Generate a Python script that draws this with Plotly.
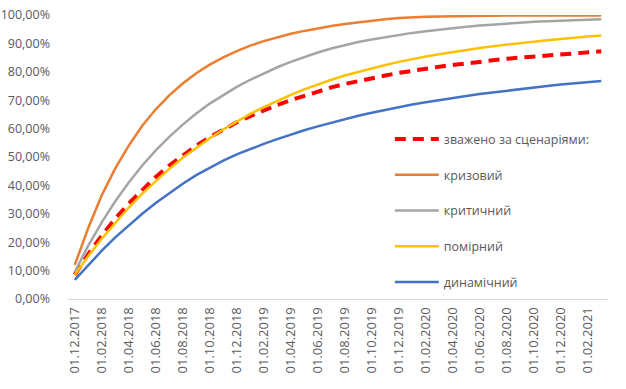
import pandas as pd
import plotly.graph_objects as go

# Monthly dates 01.12.2017 .. 01.03.2021
dates = pd.date_range("2017-12-01", "2021-03-01", freq="MS")
categories = [d.strftime("%d.%m.%Y") for d in dates]
tick_labels = categories[::2]

weighted = [8.5, 15.8, 22.3, 28.3, 33.6, 38.5, 43.0, 47.0, 50.7, 54.0, 57.0, 59.7, 62.2, 64.4, 66.4, 68.3, 70.0, 71.6, 73.1, 74.5,
            75.7, 76.8, 77.8, 78.7, 79.6, 80.4, 81.1, 81.8, 82.4, 83.0, 83.6, 84.1, 84.6, 85.0, 85.4, 85.8, 86.2, 86.6, 86.9, 87.2]
crisis = [12.0, 25.0, 36.5, 46.0, 54.0, 61.0, 66.8, 71.7, 75.9, 79.5, 82.5, 85.1, 87.3, 89.2, 90.8, 92.2, 93.4, 94.4, 95.3, 96.1,
          96.8, 97.4, 98.0, 98.5, 98.9, 99.2, 99.4, 99.5, 99.6, 99.7, 99.7, 99.8, 99.8, 99.8, 99.8, 99.8, 99.8, 99.8, 99.8, 99.8]
critical = [9.5, 18.8, 27.0, 34.4, 41.0, 47.0, 52.3, 57.1, 61.4, 65.3, 68.8, 71.9, 74.7, 77.2, 79.5, 81.6, 83.5, 85.2, 86.8, 88.2,
            89.4, 90.5, 91.4, 92.2, 93.0, 93.7, 94.3, 94.9, 95.4, 95.9, 96.3, 96.7, 97.0, 97.3, 97.6, 97.8, 98.0, 98.2, 98.4, 98.5]
moderate = [8.5, 15.1, 21.2, 26.9, 32.2, 37.1, 41.6, 45.8, 49.7, 53.3, 56.6, 59.7, 62.6, 65.2, 67.6, 69.8, 71.9, 73.8, 75.6, 77.2,
            78.7, 80.0, 81.3, 82.4, 83.5, 84.5, 85.4, 86.2, 87.0, 87.7, 88.4, 89.0, 89.6, 90.1, 90.6, 91.1, 91.6, 92.0, 92.4, 92.8]
dynamic = [6.7, 12.0, 17.0, 21.7, 26.0, 30.0, 33.8, 37.3, 40.6, 43.6, 46.3, 48.7, 50.9, 52.8, 54.6, 56.3, 57.9, 59.4, 60.8, 62.1,
           63.3, 64.5, 65.6, 66.6, 67.6, 68.5, 69.3, 70.1, 70.8, 71.5, 72.2, 72.8, 73.4, 74.0, 74.5, 75.0, 75.5, 76.0, 76.4, 76.8]

series = [
    ("зважено за сценаріями:", weighted, "#FF0000", 4, "11px,7px"),
    ("кризовий", crisis, "#ED7D31", 2.5, "solid"),
    ("критичний", critical, "#A5A5A5", 2.5, "solid"),
    ("помірний", moderate, "#FFC000", 2.5, "solid"),
    ("динамічний", dynamic, "#4472C4", 2.5, "solid"),
]

fig = go.Figure()
for i, (name, vals, color, width, dash) in enumerate(series):
    fig.add_trace(go.Scatter(
        x=categories, y=[v / 100 for v in vals], name=name, mode="lines",
        line=dict(color=color, width=width, dash=dash),
        legendgroup=f"g{i}", cliponaxis=False,
    ))

font = "'Open Sans', sans-serif"
fig.update_layout(
    width=626, height=389,
    margin=dict(l=68, r=18, t=15, b=90, autoexpand=False),
    paper_bgcolor="white", plot_bgcolor="white",
    separators=", ",
    font=dict(family=font, size=13, color="#595959"),
    legend=dict(
        x=0.596, y=0.615, xanchor="left", yanchor="top",
        font=dict(size=12.5, color="#595959"),
        itemwidth=44,
        tracegroupgap=16.5, bgcolor="rgba(0,0,0,0)",
    ),
)
fig.update_xaxes(
    type="category", range=[-0.5, len(categories) - 0.5], automargin=False,
    tickmode="array", tickvals=tick_labels, ticktext=tick_labels,
    tickangle=-90, showgrid=False, showline=True, linecolor="#D9D9D9", linewidth=1,
    ticks="", ticklabelstandoff=2, tickfont=dict(size=13, color="#595959"),
)
fig.update_yaxes(
    range=[0, 1], dtick=0.1, tickformat=".2%", showgrid=False, zeroline=False, automargin=False,
    showline=False, ticks="", ticklabelstandoff=17, tickfont=dict(size=12.5, color="#595959"),
)

fig.write_html("out.html", config={"displayModeBar": False},
               post_script="document.body.style.margin='0';")
